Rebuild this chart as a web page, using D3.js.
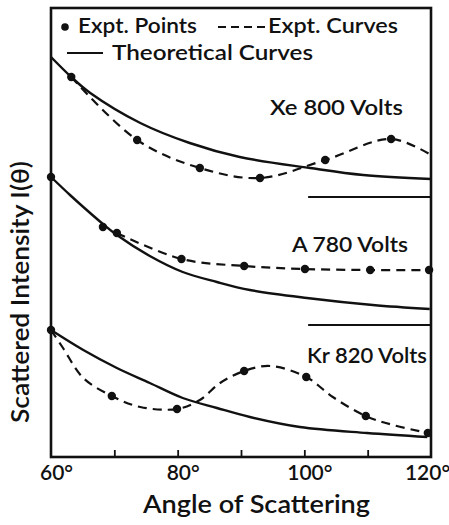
<!DOCTYPE html>
<html>
<head>
<meta charset="utf-8">
<script src="https://cdn.jsdelivr.net/npm/d3@7"></script>
<style>
  html, body { margin: 0; padding: 0; background: #fff; }
  svg { display: block; }
  text { font-family: Lato, "Open Sans", "DejaVu Sans", sans-serif; font-weight: 600; fill: #111; }
</style>
</head>
<body>
<svg id="chart" width="449" height="525"></svg>
<script>
// ---------------- DATA ----------------
const seriesNames = ["Xe 800 Volts", "A 780 Volts", "Kr 820 Volts"];
const baselines = [26.0, 13.2, 0];        // offset of each curve (intensity units)
const baselineStartAngle = 100.6;         // zero-level marker lines start here

// Xe 800 Volts
const xePointAngles = [63.2, 73.6, 83.5, 93.0, 103.3, 113.7];
const xePointValues = [12.0, 5.7, 2.9, 1.9, 3.7, 5.8];
const xeCurveAngles = [63.2, 73.6, 83.5, 93.0, 103.3, 113.7, 120];
const xeCurveValues = [12.0, 5.7, 2.9, 1.9, 3.7, 5.8, 4.2];
const xeTheoryAngles = [60, 63.2, 66.2, 74.1, 81.9, 89.8, 100.9, 109.3, 120];
const xeTheoryValues = [14.0, 12.0, 10.4, 7.4, 5.4, 4.0, 2.9, 2.2, 1.8];

// A 780 Volts
const aPointAngles = [60, 68.2, 70.4, 80.6, 90.5, 100.1, 110.4, 119.7];
const aPointValues = [14.8, 9.8, 9.2, 6.6, 5.9, 5.6, 5.5, 5.5];
const aCurveAngles = [70.4, 80.6, 90.5, 100.1, 110.4, 119.7];
const aCurveValues = [9.2, 6.6, 5.9, 5.6, 5.5, 5.5];
const aTheoryAngles = [60, 63, 65.1, 68.2, 70.4, 75.6, 80.8, 86.2, 91.4, 100.4, 110.8, 119.8];
const aTheoryValues = [14.8, 13.0, 11.8, 10.1, 9.0, 6.9, 5.3, 4.3, 3.5, 2.7, 2.0, 1.6];

// Kr 820 Volts
const krPointAngles = [60, 69.6, 79.9, 90.5, 100.3, 109.7, 119.5];
const krPointValues = [12.7, 6.1, 4.8, 8.6, 8.0, 4.1, 2.4];
const krCurveAngles = [60, 61.9, 65.1, 69.6, 74.1, 79.9, 83.5, 86.7, 90.5, 94.6, 100.3, 104.5, 109.7, 114.0, 119.5];
const krCurveValues = [12.7, 10.9, 7.9, 6.1, 5.0, 4.8, 5.7, 7.4, 8.6, 9.1, 8.0, 6.0, 4.1, 3.2, 2.4];
const krTheoryAngles = [60, 65.1, 70.4, 75.6, 80.8, 86.2, 91.4, 99.3, 109.9, 119.4];
const krTheoryValues = [12.7, 10.7, 8.9, 7.4, 5.9, 4.9, 4.0, 3.0, 2.4, 2.0];

// axis
const xDomain = [60, 120];
const yDomain = [0, 45];
const tickLabelValues = [60, 80, 100, 120];
const minorTickValues = [70, 80, 90, 100, 110];
const xTitle = "Angle of Scattering";
const yTitle = "Scattered Intensity I(\u03B8)";
const legendLabels = ["Expt. Points", "Expt. Curves", "Theoretical Curves"];

// ---------------- LAYOUT ----------------
const svg = d3.select("#chart");
const L = 51, R = 431, T = 8, B = 457;
const x = d3.scaleLinear().domain(xDomain).range([L, R]);
const y = d3.scaleLinear().domain(yDomain).range([B, T - 1]);
const ink = "#111";

const zip = (a, v, base) => a.map((d, i) => ({ a: d, v: v[i] + base }));
const series = [
  { pa: xePointAngles, pv: xePointValues, ca: xeCurveAngles, cv: xeCurveValues, ta: xeTheoryAngles, tv: xeTheoryValues },
  { pa: aPointAngles,  pv: aPointValues,  ca: aCurveAngles,  cv: aCurveValues,  ta: aTheoryAngles,  tv: aTheoryValues },
  { pa: krPointAngles, pv: krPointValues, ca: krCurveAngles, cv: krCurveValues, ta: krTheoryAngles, tv: krTheoryValues }
];

const line = d3.line().x(d => x(d.a)).y(d => y(d.v)).curve(d3.curveCatmullRom.alpha(0.5));

// frame
svg.append("rect")
  .attr("x", L).attr("y", T).attr("width", R - L).attr("height", B - T)
  .attr("fill", "none").attr("stroke", ink).attr("stroke-width", 2.6);

// zero-level marker lines for offset curves
baselines.forEach(b => {
  if (b === 0) return;
  svg.append("line")
    .attr("x1", x(baselineStartAngle)).attr("x2", x(xDomain[1]))
    .attr("y1", y(b)).attr("y2", y(b))
    .attr("stroke", ink).attr("stroke-width", 2.2);
});

// curves
series.forEach((s, i) => {
  const base = baselines[i];
  svg.append("path").datum(zip(s.ta, s.tv, base))
    .attr("d", line).attr("fill", "none").attr("stroke", ink).attr("stroke-width", 2.4);
  svg.append("path").datum(zip(s.ca, s.cv, base))
    .attr("d", line).attr("fill", "none").attr("stroke", ink).attr("stroke-width", 2.2)
    .attr("stroke-dasharray", "9,6");
  svg.selectAll(null).data(zip(s.pa, s.pv, base)).enter().append("circle")
    .attr("cx", d => x(d.a)).attr("cy", d => y(d.v)).attr("r", 4.2).attr("fill", ink);
});

// bottom axis: inner minor ticks
const tickAxis = d3.axisBottom(x).tickValues(minorTickValues).tickSize(-7).tickFormat("");
const gT = svg.append("g").attr("transform", `translate(0,${B})`).call(tickAxis);
gT.select(".domain").remove();
gT.selectAll("line").attr("stroke", ink).attr("stroke-width", 1.8);

// tick labels
const labelAxis = d3.axisBottom(x).tickValues(tickLabelValues).tickSize(0).tickFormat(d => d + "\u00B0");
const gL = svg.append("g").attr("transform", `translate(0,${B})`).call(labelAxis);
gL.select(".domain").remove();
gL.selectAll("text")
  .attr("dy", null).attr("y", 23)
  .attr("dx", d => d === 120 ? -4 : 5)
  .attr("font-size", 21)
  .style("font-family", "Lato, 'Open Sans', sans-serif")
  .style("font-weight", 600)
  .attr("fill", ink);

// axis titles
svg.append("text").attr("x", 143).attr("y", 513)
  .attr("font-size", 25).attr("textLength", 227).attr("lengthAdjust", "spacingAndGlyphs")
  .text(xTitle);
svg.append("text")
  .attr("transform", "translate(29,423) rotate(-90)")
  .attr("font-size", 25).attr("textLength", 262).attr("lengthAdjust", "spacingAndGlyphs")
  .text(yTitle);

// series labels
const seriesLabelPos = [
  { x: 270, y: 115, w: 133 },
  { x: 292, y: 252, w: 116 },
  { x: 307, y: 363, w: 120 }
];
seriesNames.forEach((n, i) => {
  const p = seriesLabelPos[i];
  svg.append("text").attr("x", p.x).attr("y", p.y)
    .attr("font-size", 21).attr("textLength", p.w).attr("lengthAdjust", "spacingAndGlyphs")
    .text(n);
});

// legend
svg.append("circle").attr("cx", 65).attr("cy", 27).attr("r", 3.8).attr("fill", ink);
svg.append("text").attr("x", 78).attr("y", 33).attr("font-size", 21)
  .attr("textLength", 119).attr("lengthAdjust", "spacingAndGlyphs").text(legendLabels[0]);
svg.append("line").attr("x1", 218).attr("x2", 267).attr("y1", 27).attr("y2", 27)
  .attr("stroke", ink).attr("stroke-width", 2).attr("stroke-dasharray", "8,5");
svg.append("text").attr("x", 268).attr("y", 33).attr("font-size", 21)
  .attr("textLength", 130).attr("lengthAdjust", "spacingAndGlyphs").text(legendLabels[1]);
svg.append("line").attr("x1", 67).attr("x2", 103).attr("y1", 53).attr("y2", 53)
  .attr("stroke", ink).attr("stroke-width", 2);
svg.append("text").attr("x", 112).attr("y", 60).attr("font-size", 21)
  .attr("textLength", 201).attr("lengthAdjust", "spacingAndGlyphs").text(legendLabels[2]);
</script>
</body>
</html>
